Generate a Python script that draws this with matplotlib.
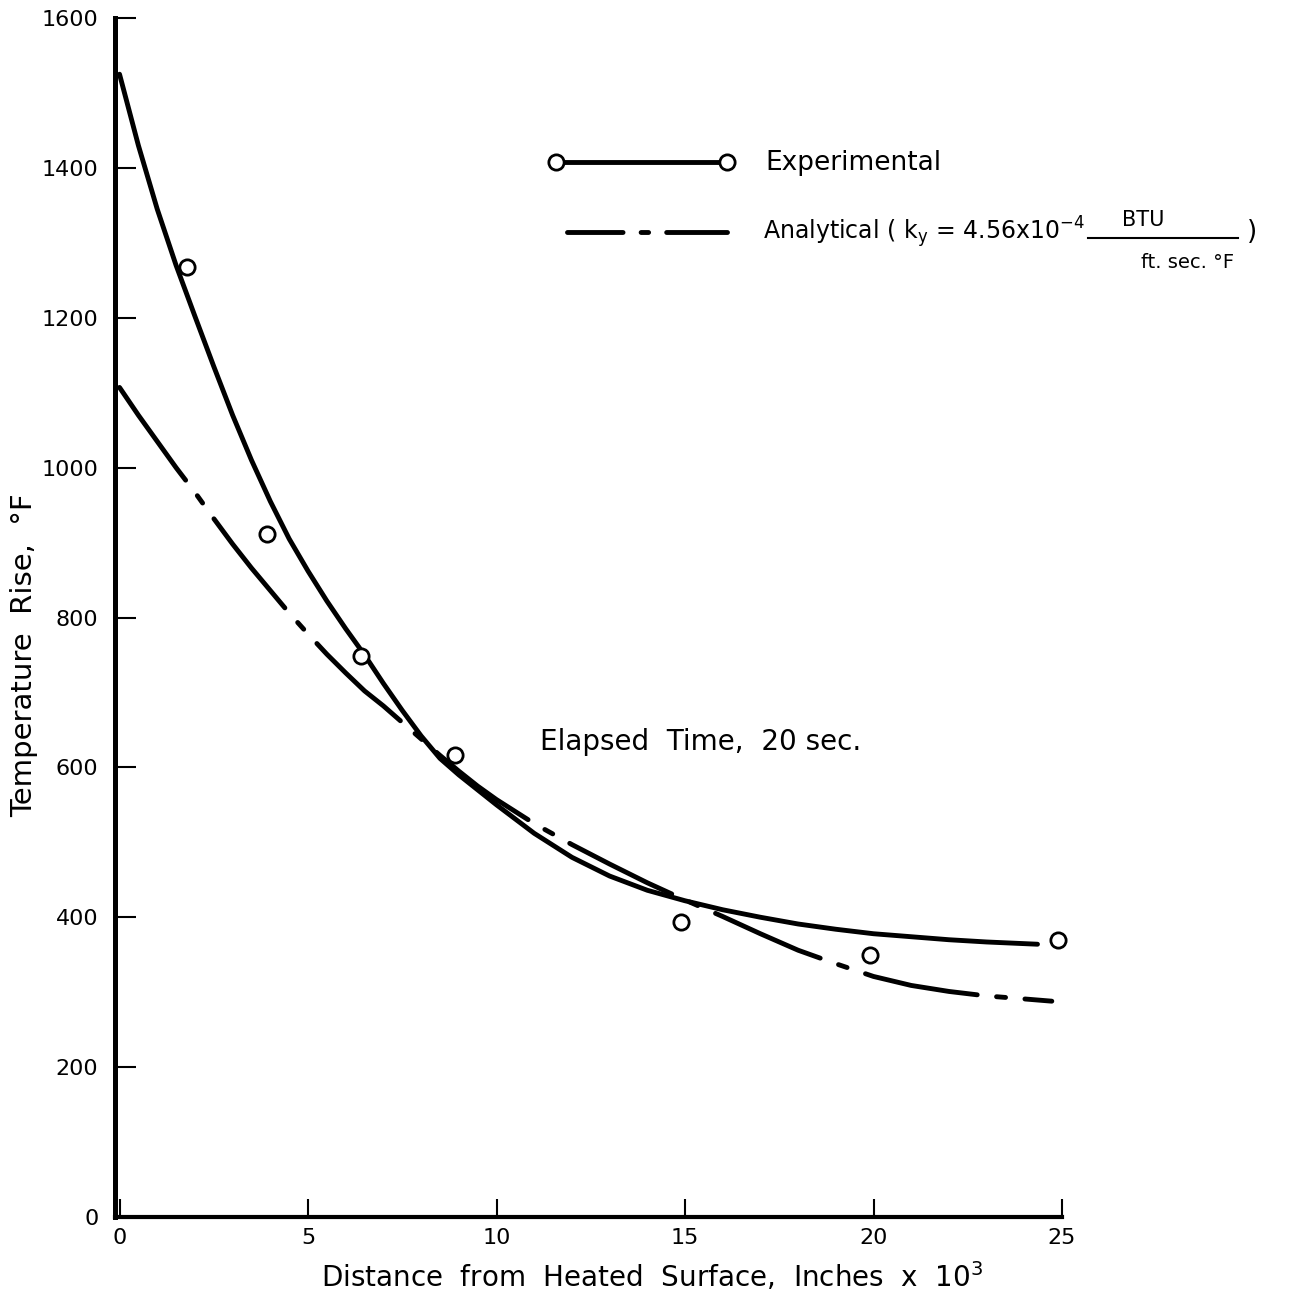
import matplotlib
matplotlib.use("Agg")
import matplotlib.pyplot as plt
from matplotlib.transforms import Affine2D
from matplotlib.lines import Line2D

plt.rcParams["font.family"] = ["DejaVu Sans"]
plt.rcParams["lines.scale_dashes"] = False
plt.rcParams["mathtext.default"] = "regular"

# ---------------- data ----------------
# Experimental measured points
exp_pts_x = [1.8, 3.9, 6.4, 8.9, 14.9, 19.9, 24.9]
exp_pts_y = [1268, 911, 749, 616, 393, 349, 369]

# Experimental faired curve (solid line)
exp_curve_x = [0.0, 0.5, 1.0, 1.5, 2.0, 2.5, 3.0, 3.5, 4.0, 4.5, 5.0, 5.5,
               6.0, 6.5, 7.0, 7.5, 8.0, 8.5, 9.0, 10.0, 11.0, 12.0, 13.0,
               14.0, 15.0, 16.0, 17.0, 18.0, 19.0, 20.0, 21.0, 22.0, 23.0,
               24.35]
exp_curve_y = [1525, 1430, 1345, 1270, 1202, 1135, 1070, 1010, 955, 905, 862,
               822, 785, 750, 712, 676, 642, 612, 590, 550, 512, 480, 455,
               436, 422, 410, 400, 391, 384, 378, 374, 370, 367,
               364]

# Analytical curve (dash-dot line)
ana_x = [0.0, 0.5, 1.0, 1.5, 2.0, 2.5, 3.0, 3.5, 4.0, 4.5, 5.0, 5.5, 6.0,
         6.5, 7.0, 7.5, 8.0, 8.5, 9.0, 9.5, 10.0, 11.0, 12.0, 13.0, 14.0,
         15.0, 16.0, 17.0, 18.0, 19.0, 20.0, 21.0, 22.0, 23.0, 24.0, 24.73]
ana_y = [1107, 1070, 1035, 1000, 967, 932, 898, 866, 836, 806, 778, 751, 726,
         702, 682, 660, 638, 616, 595, 575, 557, 525, 497, 471, 446,
         423, 401, 378, 356, 338, 321, 309, 301, 295, 291, 288]

x_ticks = [0, 5, 10, 15, 20, 25]
y_ticks = [0, 200, 400, 600, 800, 1000, 1200, 1400, 1600]

# ---------------- figure ----------------
W, H = 1298, 1295
fig = plt.figure(figsize=(W / 100, H / 100), dpi=100)
ax = fig.add_axes([115 / W, 1 - 1217 / H, (1062 - 115) / W, (1217 - 18) / H])
pix = Affine2D().scale(1 / W, -1 / H).translate(0, 1) + fig.transFigure

LW = 3.5
ax.plot(exp_curve_x, exp_curve_y, color="black", lw=LW,
        solid_capstyle="round", solid_joinstyle="round", zorder=2)
ax.plot(ana_x, ana_y, color="black", lw=LW,
        linestyle=(0, (82, 14, 6.5, 14)), dash_capstyle="round",
        dash_joinstyle="round", zorder=2)
ax.plot(exp_pts_x, exp_pts_y, "o", mfc="white", mec="black", ms=11, mew=2.0,
        zorder=3, clip_on=False)

ax.set_xlim(-0.12, 25)
ax.set_ylim(0, 1600)
ax.set_xticks(x_ticks)
ax.set_xticklabels([str(v) for v in x_ticks])
ax.set_yticks(y_ticks)
ax.set_yticklabels([str(v) for v in y_ticks])

for s in ("top", "right"):
    ax.spines[s].set_visible(False)
ax.spines["left"].set_linewidth(3.6)
ax.spines["bottom"].set_linewidth(3.0)
ax.tick_params(axis="y", direction="in", length=15, width=1.5, pad=12,
               labelsize=16)
ax.tick_params(axis="x", direction="in", length=13, width=1.5, pad=8,
               labelsize=16)

# axis labels
fig.text(24 / W, 1 - 655 / H, "Temperature  Rise,  °F", rotation=90,
         ha="center", va="center", fontsize=21)
fig.text(652 / W, 1 - 1277 / H,
         r"Distance  from  Heated  Surface,  Inches  x  10$^{3}$",
         ha="center", va="center", fontsize=20)

# annotation
fig.text(540 / W, 1 - 742 / H, "Elapsed  Time,  20 sec.", ha="left",
         va="center", fontsize=20)

# legend (hand drawn like the original)
fig.add_artist(Line2D([556, 727], [162, 162], transform=pix, color="black",
                      lw=LW, marker="o", mfc="white", mec="black", ms=11,
                      mew=2.0))
fig.text(765 / W, 1 - 163 / H, "Experimental", ha="left", va="center",
         fontsize=19)

fig.add_artist(Line2D([567, 727], [232, 232], transform=pix, color="black",
                      lw=LW, linestyle=(0, (40, 13, 5.4, 13, 80, 0)),
                      dash_capstyle="round"))
t1 = fig.text(763 / W, 1 - 232 / H,
              r"Analytical ( k$_{y}$ = 4.56x10$^{-4}$", ha="left",
              va="center", fontsize=17)
fig.canvas.draw()
x_end = t1.get_window_extent().x1  # pixels from the left edge
bar_l = x_end + 3
bar_r = bar_l + 150
fig.add_artist(Line2D([bar_l, bar_r], [238, 238], transform=pix,
                      color="black", lw=1.5))
fig.text((bar_l + 55) / W, 1 - 220 / H, "BTU", ha="center", va="center",
         fontsize=15)
fig.text((bar_l + 100) / W, 1 - 262 / H, "ft. sec. °F", ha="center",
         va="center", fontsize=14)
fig.text((bar_r + 14) / W, 1 - 232 / H, ")", ha="center", va="center",
         fontsize=19)

fig.savefig("out.png", dpi=100, facecolor="white")
